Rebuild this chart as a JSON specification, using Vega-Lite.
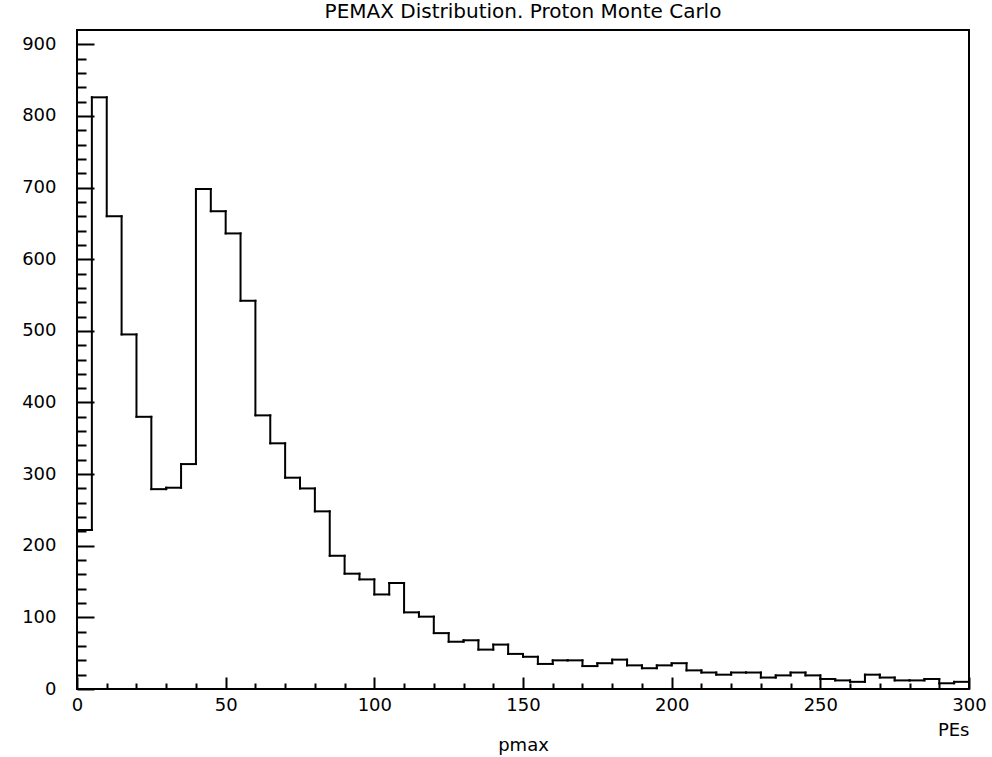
{
  "$schema": "https://vega.github.io/schema/vega-lite/v6.json",
  "width": 892,
  "height": 659,
  "autosize": {"type": "none"},
  "padding": {"left": 77, "top": 30, "right": 23, "bottom": 68},
  "background": "white",
  "config": {
    "view": {"stroke": "black", "strokeWidth": 2},
    "font": "DejaVu Sans",
    "axis": {"labelFont": "DejaVu Sans", "titleFont": "DejaVu Sans", "labelColor": "black", "titleColor": "black", "tickColor": "black", "labelFontSize": 18, "titleFontSize": 18, "titleFontWeight": "normal", "grid": false, "domain": false, "tickWidth": 2, "labelOverlap": false, "labelFlush": false}
  },
  "title": {"text": "PEMAX Distribution.  Proton Monte Carlo", "font": "DejaVu Sans", "fontSize": 20, "fontWeight": "normal", "color": "black", "anchor": "middle", "offset": 8},
  "data": {"values": [
    {"lo": 0, "hi": 5, "n": 222}, {"lo": 5, "hi": 10, "n": 826}, {"lo": 10, "hi": 15, "n": 660}, {"lo": 15, "hi": 20, "n": 495},
    {"lo": 20, "hi": 25, "n": 380}, {"lo": 25, "hi": 30, "n": 279}, {"lo": 30, "hi": 35, "n": 281}, {"lo": 35, "hi": 40, "n": 314},
    {"lo": 40, "hi": 45, "n": 698}, {"lo": 45, "hi": 50, "n": 667}, {"lo": 50, "hi": 55, "n": 636}, {"lo": 55, "hi": 60, "n": 542},
    {"lo": 60, "hi": 65, "n": 382}, {"lo": 65, "hi": 70, "n": 343}, {"lo": 70, "hi": 75, "n": 295}, {"lo": 75, "hi": 80, "n": 280},
    {"lo": 80, "hi": 85, "n": 248}, {"lo": 85, "hi": 90, "n": 186}, {"lo": 90, "hi": 95, "n": 161}, {"lo": 95, "hi": 100, "n": 153},
    {"lo": 100, "hi": 105, "n": 132}, {"lo": 105, "hi": 110, "n": 148}, {"lo": 110, "hi": 115, "n": 107}, {"lo": 115, "hi": 120, "n": 101},
    {"lo": 120, "hi": 125, "n": 78}, {"lo": 125, "hi": 130, "n": 66}, {"lo": 130, "hi": 135, "n": 68}, {"lo": 135, "hi": 140, "n": 55},
    {"lo": 140, "hi": 145, "n": 62}, {"lo": 145, "hi": 150, "n": 49}, {"lo": 150, "hi": 155, "n": 45}, {"lo": 155, "hi": 160, "n": 35},
    {"lo": 160, "hi": 165, "n": 40}, {"lo": 165, "hi": 170, "n": 40}, {"lo": 170, "hi": 175, "n": 32}, {"lo": 175, "hi": 180, "n": 36},
    {"lo": 180, "hi": 185, "n": 41}, {"lo": 185, "hi": 190, "n": 33}, {"lo": 190, "hi": 195, "n": 29}, {"lo": 195, "hi": 200, "n": 33},
    {"lo": 200, "hi": 205, "n": 36}, {"lo": 205, "hi": 210, "n": 26}, {"lo": 210, "hi": 215, "n": 23}, {"lo": 215, "hi": 220, "n": 20},
    {"lo": 220, "hi": 225, "n": 23}, {"lo": 225, "hi": 230, "n": 23}, {"lo": 230, "hi": 235, "n": 16}, {"lo": 235, "hi": 240, "n": 19},
    {"lo": 240, "hi": 245, "n": 23}, {"lo": 245, "hi": 250, "n": 19}, {"lo": 250, "hi": 255, "n": 14}, {"lo": 255, "hi": 260, "n": 12},
    {"lo": 260, "hi": 265, "n": 10}, {"lo": 265, "hi": 270, "n": 20}, {"lo": 270, "hi": 275, "n": 16}, {"lo": 275, "hi": 280, "n": 12},
    {"lo": 280, "hi": 285, "n": 12}, {"lo": 285, "hi": 290, "n": 14}, {"lo": 290, "hi": 295, "n": 8}, {"lo": 295, "hi": 300, "n": 10}
  ]},
  "resolve": {"axis": {"x": "independent", "y": "independent"}},
  "layer": [
    {
      "mark": {"type": "rule", "color": "black", "strokeWidth": 2, "strokeCap": "square"},
      "encoding": {
        "x": {"field": "lo", "type": "quantitative", "scale": {"domain": [0, 300], "nice": false, "zero": false},
          "axis": {"orient": "bottom", "title": "PEs", "titleAnchor": "end", "titleAlign": "right", "titlePadding": 7,
            "values": [0, 50, 100, 150, 200, 250, 300], "tickSize": -12, "labelPadding": 19}},
        "x2": {"field": "hi"},
        "y": {"field": "n", "type": "quantitative", "scale": {"domain": [0, 920], "nice": false},
          "axis": {"orient": "left", "title": null,
            "values": [0, 100, 200, 300, 400, 500, 600, 700, 800, 900], "tickSize": -17, "labelPadding": 38}}
      }
    },
    {
      "transform": [
        {"window": [{"op": "lag", "field": "n", "as": "prev"}], "sort": [{"field": "lo", "order": "ascending"}]},
        {"filter": "datum.prev != null"}
      ],
      "mark": {"type": "rule", "color": "black", "strokeWidth": 2, "strokeCap": "square"},
      "encoding": {
        "x": {"field": "lo", "type": "quantitative",
          "axis": {"orient": "bottom", "title": "pmax", "labels": false, "titlePadding": 46,
            "values": [10, 20, 30, 40, 60, 70, 80, 90, 110, 120, 130, 140, 160, 170, 180, 190, 210, 220, 230, 240, 260, 270, 280, 290],
            "tickSize": -6}},
        "y": {"field": "prev", "type": "quantitative",
          "axis": {"orient": "left", "title": null, "labels": false,
            "values": [20, 40, 60, 80, 120, 140, 160, 180, 220, 240, 260, 280, 320, 340, 360, 380, 420, 440, 460, 480, 520, 540, 560, 580, 620, 640, 660, 680, 720, 740, 760, 780, 820, 840, 860, 880],
            "tickSize": -9}},
        "y2": {"field": "n"}
      }
    }
  ]
}
